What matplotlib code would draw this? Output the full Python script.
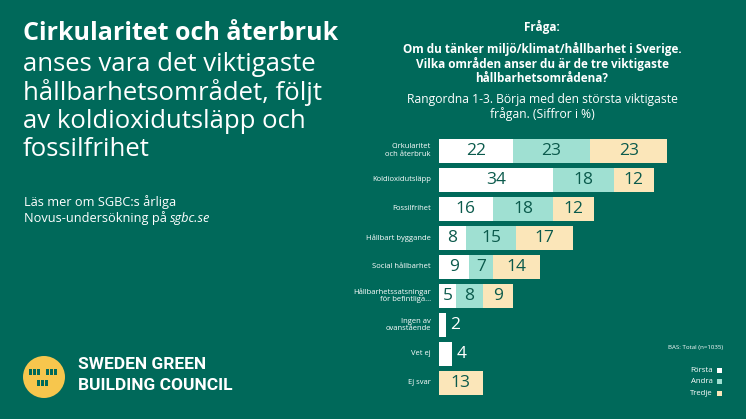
import matplotlib.pyplot as plt
from matplotlib.patches import Ellipse, Rectangle

# ---- data ----
categories = ["Cirkularitet\noch återbruk", "Koldioxidutsläpp", "Fossilfrihet",
              "Hållbart byggande", "Social hållbarhet",
              "Hållbarhetssatsningar\nför befintliga...", "Ingen av\novanstående",
              "Vet ej", "Ej svar"]
forsta = [22, 34, 16, 8, 9, 5, 2, 4, 0]
andra = [23, 18, 18, 15, 7, 8, 0, 0, 0]
tredje = [23, 12, 12, 17, 14, 9, 0, 0, 13]
series_names = ["Första", "Andra", "Tredje"]

bg = "#00695a"
dark = "#0b5a4c"
colors = ["#ffffff", "#9fe0d2", "#fbe6b9"]

W, H = 746, 419
fig = plt.figure(figsize=(W / 100, H / 100), dpi=100)
fig.patch.set_facecolor(bg)

def fx(x):
    return x / W

def fy(y):
    return 1 - y / H

font = "Open Sans"

# ---- left text ----
fig.text(fx(23), fy(33), "Cirkularitet och återbruk", color="white", fontsize=18,
         fontweight="bold", family=font, va="center", ha="left")
body = ["anses vara det viktigaste", "hållbarhetsområdet, följt",
        "av koldioxidutsläpp och", "fossilfrihet"]
for i, line in enumerate(body):
    fig.text(fx(23), fy(64 + 28.6 * i), line, color="white", fontsize=18.5,
             family=font, va="center", ha="left")
fig.text(fx(24), fy(202), "Läs mer om SGBC:s årliga", color="white", fontsize=9.2,
         family=font, va="center")
t = fig.text(fx(24), fy(218), "Novus-undersökning på ", color="white", fontsize=9.2,
             family=font, va="center")
fig.canvas.draw()
bb = t.get_window_extent()
fig.text(bb.x1 / W, fy(218), "sgbc.se", color="white", fontsize=9.2, family=font,
         style="italic", va="center")

# ---- logo ----
fig.patches.append(Ellipse((fx(44), fy(377)), 42 / W, 42 / H, transform=fig.transFigure,
                           facecolor="#f7c64d", edgecolor="none"))
for (cx, cy) in [(35, 372), (52, 372), (43, 383)]:
    for k in range(3):
        fig.patches.append(Rectangle((fx(cx - 6 + k * 4.2), fy(cy + 3)), 3 / W, 6 / H,
                                     transform=fig.transFigure, facecolor=bg,
                                     edgecolor="none"))
fig.text(fx(78), fy(364), "SWEDEN GREEN", color="white", fontsize=12.5,
         fontweight="bold", family="Roboto", va="center")
fig.text(fx(78), fy(385), "BUILDING COUNCIL", color="white", fontsize=12.5,
         fontweight="bold", family="Roboto", va="center")

# ---- question header ----
cx = fx(542)
fig.text(cx, fy(27), "Fråga:", color="white", fontsize=8.5, fontweight="bold",
         family=font, ha="center", va="center")
for i, line in enumerate(["Om du tänker miljö/klimat/hållbarhet i Sverige.",
                          "Vilka områden anser du är de tre viktigaste",
                          "hållbarhetsområdena?"]):
    fig.text(cx, fy(49 + 15 * i), line, color="white", fontsize=8.5, fontweight="bold",
             family=font, ha="center", va="center")
for i, line in enumerate(["Rangordna 1-3. Börja med den största viktigaste",
                          "frågan. (Siffror i %)"]):
    fig.text(cx, fy(99 + 15 * i), line, color="white", fontsize=8.7,
             family=font, ha="center", va="center")

# ---- bars ----
px_per_unit = 3.36
ax = fig.add_axes([439 / W, (H - 397.5) / H, 307 / W, 261.4 / H])
ax.set_facecolor("none")
ax.set_xlim(0, 307 / px_per_unit)
ax.set_ylim(8.5, -0.5)
ax.axis("off")

rows = range(len(categories))
left = [0] * len(categories)
for vals, c in zip([forsta, andra, tredje], colors):
    ax.barh(rows, vals, left=left, height=0.83, color=c, edgecolor="none")
    for i, v in enumerate(vals):
        if v >= 5:
            ax.text(left[i] + v / 2, i, str(v), color=dark, fontsize=12.5,
                    family=font, ha="center", va="center")
        elif v > 0:
            ax.text(left[i] + v + 1.2, i, str(v), color="white", fontsize=12.5,
                    family=font, ha="left", va="center")
    left = [a + b for a, b in zip(left, vals)]

for i, cat in enumerate(categories):
    ax.text(-2.4, i, cat, color="white", fontsize=5.5, family=font, ha="right",
            va="center", linespacing=1.1)

# ---- base note and legend ----
fig.text(fx(723), fy(347), "BAS: Total (n=1035)", color="white", fontsize=4.4,
         family=font, ha="right", va="center")
for i, (name, c) in enumerate(zip(series_names, colors)):
    y = 370 + 11.5 * i
    fig.text(fx(713), fy(y), name, color="white", fontsize=5.6, family=font,
             ha="right", va="center")
    fig.patches.append(Rectangle((fx(717), fy(y + 2.5)), 5 / W, 5 / H,
                                 transform=fig.transFigure, facecolor=c,
                                 edgecolor="none"))

fig.savefig("out.png", dpi=100, facecolor=bg)
